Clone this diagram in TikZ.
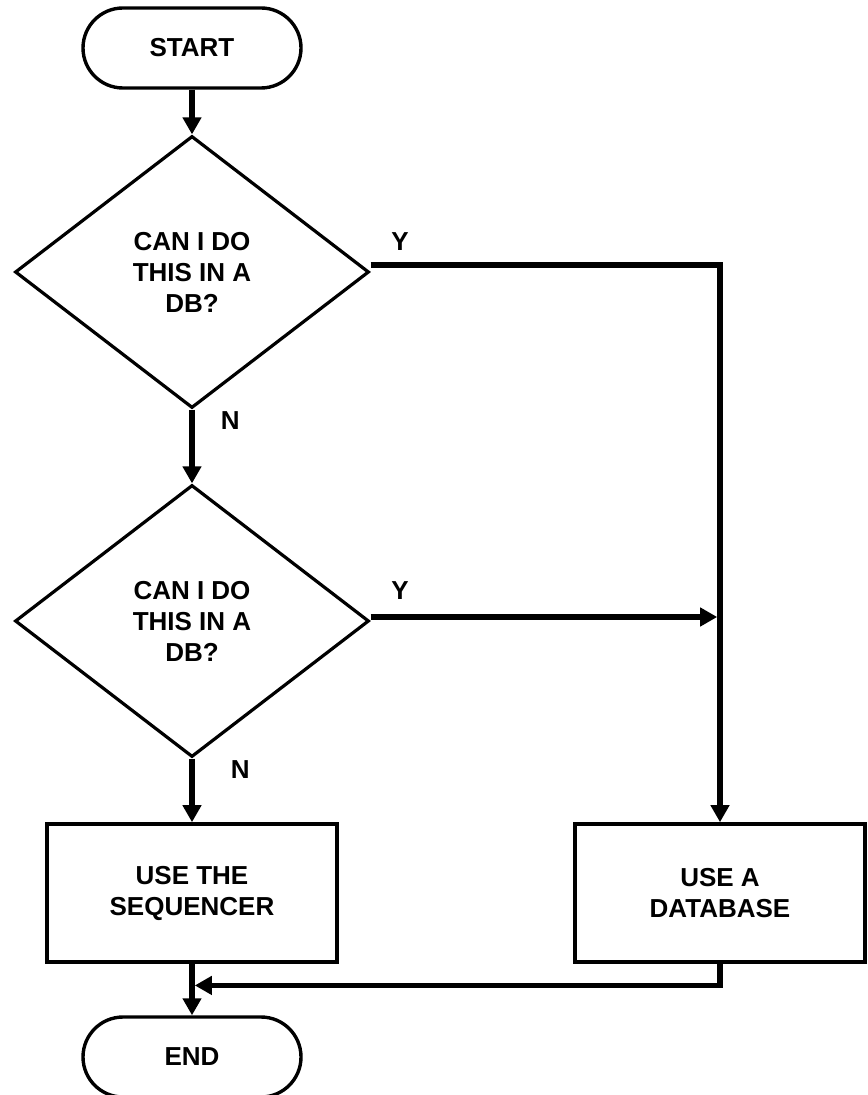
\documentclass[tikz,border=0pt]{standalone}
\usepackage{fontspec}
\setmainfont{Liberation Sans}
\usetikzlibrary{shapes,arrows.meta,positioning,calc}

\begin{document}
\begin{tikzpicture}[x=0.5pt, y=-0.5pt]
  % Estilos
  \tikzstyle{terminal}=[rectangle, draw, line width=1.7pt, minimum width=109pt, minimum height=40pt, rounded corners=20pt, font=\bfseries\fontsize{13}{15.5}\selectfont, align=center]
  \tikzstyle{decision}=[diamond, draw, line width=1.6pt, minimum width=177pt, minimum height=136pt, inner sep=0pt, aspect=1.3, font=\bfseries\fontsize{13}{15.5}\selectfont, align=center]
  \tikzstyle{process}=[rectangle, draw, line width=1.8pt, minimum width=145pt, minimum height=69pt, font=\bfseries\fontsize{13}{15.5}\selectfont, align=center]
  \tikzstyle{conn}=[->, line width=2.8pt, >={Triangle[length=8.5pt,width=9pt]}]
  \tikzstyle{answer}=[font=\bfseries\fontsize{13}{15.5}\selectfont, inner sep=2pt]

  \useasboundingbox (0,0) rectangle (867,1095);

  % Inicio
  \node[terminal] (start) at (192,48) {START};

  % Preguntas
  \node[decision] (dec1) at (192,272) {CAN I DO\\THIS IN A\\DB?};
  \node[decision] (dec2) at (192,621) {CAN I DO\\THIS IN A\\DB?};

  % Acciones
  \node[process] (seq) at (192,893) {USE THE\\SEQUENCER};
  \node[process] (db) at (720,893) {USE A\\DATABASE};

  % Fin
  \node[terminal] (end) at (192,1057) {END};

  % Puntos de union
  \coordinate (tee) at ($(db.north |- dec2.east)+(0,-4)$);
  \coordinate (merge) at ($(seq.south)!0.42!(end.north)$);

  % Flujo principal
  \draw[conn] (start.south) -- (dec1.north);
  \draw[conn] (dec1.south) -- node[answer, pos=0.15, right=11pt] {N} (dec2.north);
  \draw[conn] (dec2.south) -- node[answer, pos=0.18, right=16pt] {N} (seq.north);
  \draw[conn] (seq.south) -- (end.north);

  % Ramas Y
  \draw[conn] ([yshift=3.5pt]dec1.east) node[answer, above right=4pt and 7pt] {Y} -| (db.north);
  \draw[conn, shorten >=1.4pt] ([yshift=2pt]dec2.east) node[answer, above right=5.5pt and 7pt] {Y} -- (tee);

  % Retorno
  \draw[conn, shorten >=1.4pt] (db.south) |- (merge);
\end{tikzpicture}
\end{document}
